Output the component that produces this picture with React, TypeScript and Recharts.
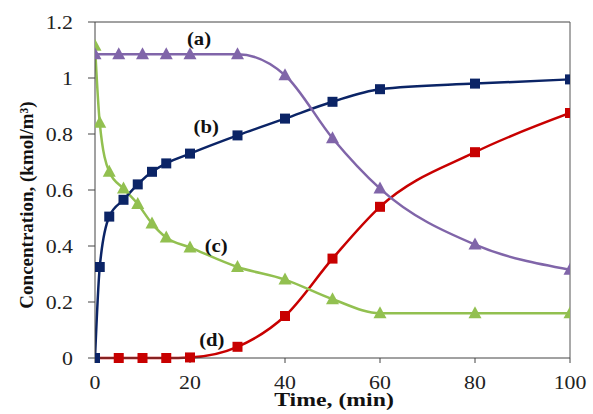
import React from "react";
import {
  LineChart, Line, XAxis, YAxis, ReferenceLine, ReferenceDot,
} from "recharts";

// Time (min) and concentration (kmol/m3) for the four species
const timeA = [0, 5, 10, 15, 20, 30, 40, 50, 60, 80, 100];
const concA = [1.085, 1.085, 1.085, 1.085, 1.085, 1.085, 1.01, 0.785, 0.605, 0.405, 0.315];

const timeB = [0, 1, 3, 6, 9, 12, 15, 20, 30, 40, 50, 60, 80, 100];
const concB = [0, 0.325, 0.505, 0.565, 0.62, 0.665, 0.695, 0.73, 0.795, 0.855, 0.915, 0.96, 0.98, 0.995];

const timeC = [0, 1, 3, 6, 9, 12, 15, 20, 30, 40, 50, 60, 80, 100];
const concC = [1.115, 0.84, 0.665, 0.605, 0.55, 0.48, 0.43, 0.395, 0.325, 0.28, 0.21, 0.16, 0.16, 0.16];

const timeD = [0, 5, 10, 15, 20, 30, 40, 50, 60, 80, 100];
const concD = [0, 0, 0, 0, 0.002, 0.04, 0.15, 0.355, 0.54, 0.735, 0.875];

const xTicks = [0, 20, 40, 60, 80, 100];
const yTicks = [0, 0.2, 0.4, 0.6, 0.8, 1, 1.2];

// curve labels, placed in data coordinates
const labelText = ["(a)", "(b)", "(c)", "(d)"];
const labelX = [21.9, 23.4, 25.5, 24.6];
const labelY = [1.139, 0.825, 0.4, 0.064];

const zip = (xs: number[], ys: number[]) => xs.map((x, i) => ({ x, y: ys[i] }));

const PURPLE = "#8065a9";
const NAVY = "#0b2466";
const GREEN = "#92c050";
const RED = "#c80000";

const SERIF = "Liberation Serif, Times New Roman, serif";
// the reference is slightly stretched sideways
const SX = 1.15;

const triangle = (color: string) => (p: any) => {
  const { cx, cy, index } = p;
  if (cx == null || cy == null) return <g key={index} />;
  return (
    <polygon
      key={index}
      points={`${cx},${cy - 7} ${cx - 6.5},${cy + 5} ${cx + 6.5},${cy + 5}`}
      fill={color}
    />
  );
};

const square = (color: string) => (p: any) => {
  const { cx, cy, index } = p;
  if (cx == null || cy == null) return <g key={index} />;
  return <rect key={index} x={cx - 5} y={cy - 5} width={10} height={10} fill={color} />;
};

const XTick = (p: any) => (
  <text
    transform={`translate(${p.x} ${p.y}) scale(${SX} 1)`}
    dy="0.71em"
    textAnchor="middle"
    fontSize={19}
    fill="#222"
    fontFamily={SERIF}
  >
    {p.payload.value}
  </text>
);

const YTick = (p: any) => (
  <text
    transform={`translate(${p.x} ${p.y}) scale(${SX} 1)`}
    dy="0.35em"
    textAnchor="end"
    fontSize={19}
    fill="#222"
    fontFamily={SERIF}
  >
    {p.payload.value}
  </text>
);

const CurveLabel = (text: string) => (p: any) => {
  const vb = p.viewBox || {};
  return (
    <text
      transform={`translate(${vb.x} ${vb.y}) scale(${SX} 1)`}
      textAnchor="middle"
      dominantBaseline="central"
      fontSize={18}
      fontWeight="bold"
      fill="#111"
      fontFamily={SERIF}
    >
      {text}
    </text>
  );
};

export default function App() {
  return (
    <div style={{ position: "absolute", left: 0, top: 0, background: "#fff", fontFamily: SERIF }}>
      <LineChart width={593} height={414} margin={{ top: 22, right: 23, bottom: 26, left: 0 }}>
        <XAxis
          type="number"
          dataKey="x"
          domain={[0, 100]}
          ticks={xTicks}
          tick={XTick}
          tickSize={5}
          tickMargin={13}
          height={30}
          stroke="#444"
          allowDataOverflow
          label={{
            content: () => (
              <text
                transform={`translate(334 406) scale(1.25 1)`}
                textAnchor="middle"
                fontSize={19}
                fontWeight="bold"
                fill="#111"
                fontFamily={SERIF}
              >
                Time, (min)
              </text>
            ),
          }}
        />
        <YAxis
          type="number"
          domain={[0, 1.2]}
          ticks={yTicks}
          tick={YTick}
          tickSize={7}
          tickMargin={15}
          width={95}
          stroke="#444"
          label={{
            content: () => (
              <text
                transform="translate(26 205) rotate(-90)"
                textAnchor="middle"
                dominantBaseline="central"
                fontSize={19}
                fontWeight="bold"
                fill="#111"
                fontFamily={SERIF}
              >
                Concentration, (kmol/m³)
              </text>
            ),
          }}
        />
        <ReferenceLine y={1.2} stroke="#444" />
        <ReferenceLine x={100} stroke="#555" />
        <Line
          data={zip(timeD, concD)}
          dataKey="y"
          type="monotone"
          stroke={RED}
          strokeWidth={2.5}
          dot={square(RED)}
          isAnimationActive={false}
        />
        <Line
          data={zip(timeC, concC)}
          dataKey="y"
          type="monotone"
          stroke={GREEN}
          strokeWidth={2.5}
          dot={triangle(GREEN)}
          isAnimationActive={false}
        />
        <Line
          data={zip(timeB, concB)}
          dataKey="y"
          type="monotone"
          stroke={NAVY}
          strokeWidth={2.5}
          dot={square(NAVY)}
          isAnimationActive={false}
        />
        <Line
          data={zip(timeA, concA)}
          dataKey="y"
          type="monotone"
          stroke={PURPLE}
          strokeWidth={2.5}
          dot={triangle(PURPLE)}
          isAnimationActive={false}
        />
        {labelText.map((t, i) => (
          <ReferenceDot
            key={t}
            x={labelX[i]}
            y={labelY[i]}
            r={0}
            fill="none"
            stroke="none"
            label={{ content: CurveLabel(t) }}
          />
        ))}
      </LineChart>
    </div>
  );
}
